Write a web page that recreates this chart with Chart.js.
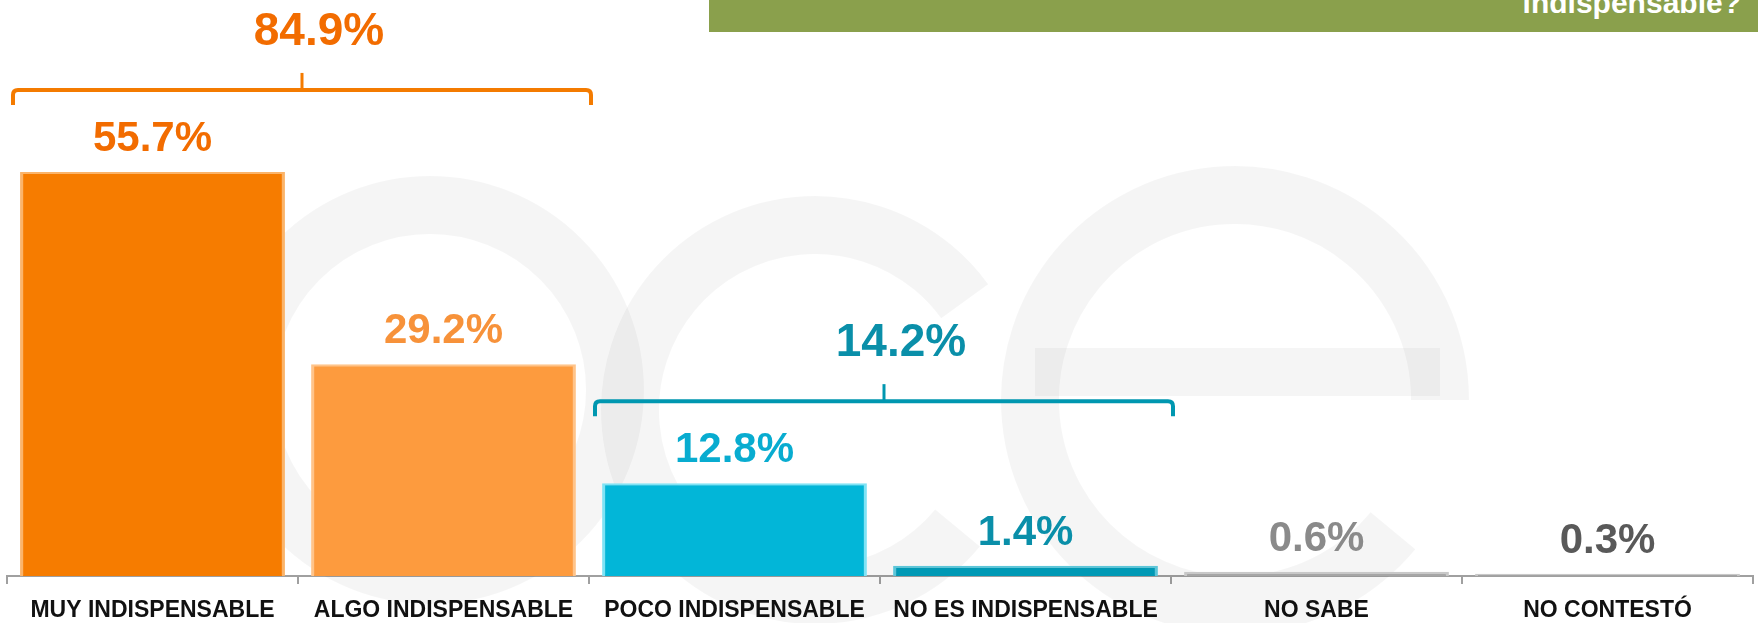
<!DOCTYPE html>
<html>
<head>
<meta charset="utf-8">
<script src="https://cdn.jsdelivr.net/npm/chart.js@4.4.0/dist/chart.umd.min.js"></script>
<style>
    html, body { margin: 0; padding: 0; background: #fff; }
    #wrap { position: relative; width: 1758px; height: 623px; overflow: hidden; }
    #chart-box { position: absolute; left: 0; top: 0; width: 1758px; height: 623px; }
    .header {
        position: absolute; left: 709px; top: 0; width: 1049px; height: 32px;
        background: #8aa04c; overflow: hidden;
    }
    .header span {
        position: absolute; right: 17px; top: -12px;
        font: bold 30px 'Liberation Sans', Arial, sans-serif; line-height: 30px;
        color: #fff; white-space: nowrap;
    }
</style>
</head>
<body>
<div id="wrap">
    <div id="chart-box"><canvas id="bars"></canvas></div>
    <div class="header"><span>indispensable?</span></div>
</div>
<script>
// datos
const categories = ['MUY INDISPENSABLE', 'ALGO INDISPENSABLE', 'POCO INDISPENSABLE', 'NO ES INDISPENSABLE', 'NO SABE', 'NO CONTESTÓ'];
const values = [55.7, 29.2, 12.8, 1.4, 0.6, 0.3];
const groupMembers = [[0, 1], [2, 3]];
const groupTotals = [84.9, 14.2];

// colores
const barColors = ['#f67c00', '#fd9b3e', '#02b6d8', '#0099b5', '#a6a6a6', '#a3a3a3'];
const barEdges = ['#fbb46a', '#ffc48a', '#7fe3f5', '#5cc6d9', '#c8c8c8', '#c8c8c8'];
const labelColors = ['#f26c00', '#f7923a', '#08acd0', '#0a8fa9', '#8a8a8a', '#595959'];
const groupColors = ['#f47b00', '#0097b0'];
const totalColors = ['#f26c00', '#0a8fa9'];

const FONT = "'Liberation Sans', Arial, sans-serif";

// marca de agua tenue
const watermark = {
    id: 'watermark',
    beforeDatasetsDraw(chart) {
        const ctx = chart.ctx;
        ctx.save();
        ctx.strokeStyle = 'rgba(0,0,0,0.04)';
        ctx.lineWidth = 58;
        ctx.beginPath();
        ctx.arc(430, 390, 185, 0, Math.PI * 2);
        ctx.stroke();
        ctx.beginPath();
        ctx.arc(815, 410, 185, Math.PI * 0.22, Math.PI * 1.8);
        ctx.stroke();
        ctx.beginPath();
        ctx.arc(1235, 400, 205, Math.PI * 0.22, Math.PI * 2);
        ctx.stroke();
        ctx.lineWidth = 48;
        ctx.beginPath();
        ctx.moveTo(1035, 372);
        ctx.lineTo(1440, 372);
        ctx.stroke();
        ctx.restore();
    }
};

// etiquetas de valor y llaves de agrupacion
const annotations = {
    id: 'annotations',
    afterDatasetsDraw(chart) {
        const ctx = chart.ctx;
        const meta = chart.getDatasetMeta(0);
        const xs = chart.scales.x;
        const catW = chart.chartArea.width / categories.length;

        ctx.save();
        ctx.textAlign = 'center';
        ctx.textBaseline = 'alphabetic';
        ctx.font = `bold 42px ${FONT}`;
        meta.data.forEach((bar, i) => {
            ctx.fillStyle = labelColors[i];
            ctx.fillText(values[i].toFixed(1) + '%', bar.x, bar.y - 21);
        });

        groupMembers.forEach((members, g) => {
            const first = members[0];
            const last = members[members.length - 1];
            const left = xs.getPixelForValue(first) - catW / 2 + 6;
            const right = xs.getPixelForValue(last) + catW / 2 + 2;
            const top = Math.min(...members.map(i => meta.data[i].y));
            const lineY = top - 82;
            const mid = (left + right) / 2;
            const r = 5;

            ctx.strokeStyle = groupColors[g];
            ctx.lineWidth = 4;
            ctx.lineCap = 'butt';
            ctx.beginPath();
            ctx.moveTo(left, lineY + 15);
            ctx.lineTo(left, lineY + r);
            ctx.quadraticCurveTo(left, lineY, left + r, lineY);
            ctx.lineTo(right - r, lineY);
            ctx.quadraticCurveTo(right, lineY, right, lineY + r);
            ctx.lineTo(right, lineY + 15);
            ctx.stroke();
            ctx.lineWidth = 3;
            ctx.beginPath();
            ctx.moveTo(mid, lineY);
            ctx.lineTo(mid, lineY - 17);
            ctx.stroke();

            ctx.fillStyle = totalColors[g];
            ctx.font = `bold 46px ${FONT}`;
            ctx.fillText(groupTotals[g].toFixed(1) + '%', mid + 17, lineY - 45);
        });
        ctx.restore();
    }
};

new Chart(document.getElementById('bars'), {
    type: 'bar',
    data: {
        labels: categories,
        datasets: [{
            data: values,
            backgroundColor: barColors,
            borderColor: barEdges,
            borderWidth: { top: 2, left: 3, right: 3, bottom: 0 },
            borderSkipped: false,
            categoryPercentage: 1,
            barPercentage: 0.91
        }]
    },
    options: {
        responsive: true,
        maintainAspectRatio: false,
        animation: false,
        layout: { padding: { left: 7, right: 5, top: 0, bottom: 0 } },
        plugins: {
            legend: { display: false },
            tooltip: { enabled: false }
        },
        scales: {
            x: {
                grid: {
                    offset: true,
                    drawOnChartArea: false,
                    drawTicks: true,
                    tickLength: 8,
                    color: '#a0a0a0',
                    lineWidth: 2
                },
                border: { display: true, color: '#a0a0a0', width: 2 },
                ticks: {
                    color: '#111',
                    padding: 13,
                    maxRotation: 0,
                    autoSkip: false,
                    font: { family: FONT, size: 23, weight: 'bold' }
                },
                afterFit(scale) { scale.height = 47; }
            },
            y: {
                display: false,
                min: 0,
                max: 79.4
            }
        }
    },
    plugins: [watermark, annotations]
});
</script>
</body>
</html>
